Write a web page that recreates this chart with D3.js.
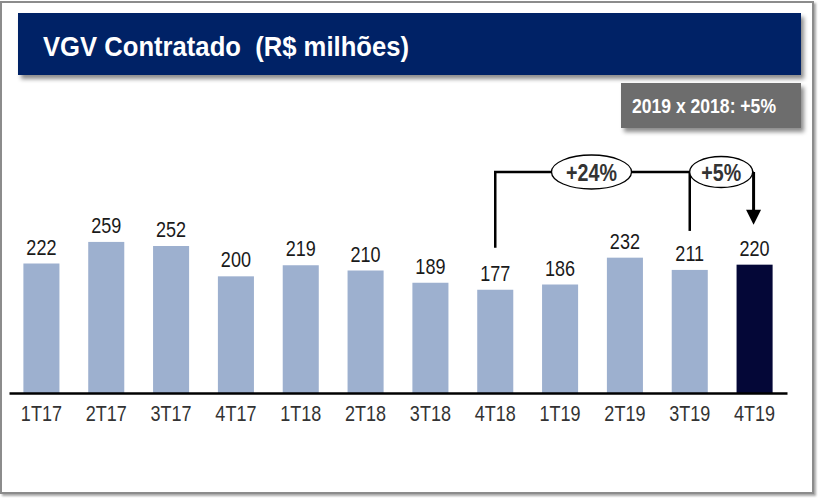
<!DOCTYPE html>
<html><head><meta charset="utf-8">
<script src="https://cdn.jsdelivr.net/npm/d3@7"></script>
<style>
html,body{margin:0;padding:0;background:#fff;}
svg{display:block;}
text{font-family:"Liberation Sans Narrow","Arial Narrow","Liberation Sans",Arial,sans-serif;white-space:pre;}
</style></head>
<body>
<script>
const categories = ["1T17","2T17","3T17","4T17","1T18","2T18","3T18","4T18","1T19","2T19","3T19","4T19"];
const values = [222,259,252,200,219,210,189,177,186,232,211,220];
const highlight = ["4T19"];
const titleText = "VGV Contratado  (R$ milhões)";
const boxText = "2019 x 2018: +5%";
const growthLabels = [
  {from:"4T18", to:"3T19", text:"+24%"},
  {from:"3T19", to:"4T19", text:"+5%"}
];

const W = 818, H = 498;
const SX = 0.82; // horizontal condensation (narrow face)
const svg = d3.select("body").append("svg").attr("width", W).attr("height", H);
const defs = svg.append("defs");
const sh = defs.append("filter").attr("id","shadow").attr("x","-5%").attr("y","-20%").attr("width","115%").attr("height","160%");
sh.append("feDropShadow").attr("dx",3).attr("dy",4).attr("stdDeviation",2.2).attr("flood-color","#000").attr("flood-opacity",0.45);
const sh2 = defs.append("filter").attr("id","frameShadow").attr("x","-2%").attr("y","-2%").attr("width","104%").attr("height","104%");
sh2.append("feDropShadow").attr("dx",2).attr("dy",2).attr("stdDeviation",1).attr("flood-color","#000").attr("flood-opacity",0.35);

// outer frame
svg.append("rect").attr("x",1).attr("y",2).attr("width",812).attr("height",491)
  .attr("fill","#fff").attr("stroke","#8c8c8c").attr("stroke-width",2).attr("filter","url(#frameShadow)");

// title bar
svg.append("rect").attr("x",18).attr("y",13).attr("width",783).attr("height",62)
  .attr("fill","#062466").attr("filter","url(#shadow)");
svg.append("text").attr("x",43).attr("y",56)
  .attr("fill","#fff").attr("font-weight","bold").attr("font-size",28)
  .attr("textLength",366).attr("lengthAdjust","spacingAndGlyphs")
  .text(titleText);

// gray box
svg.append("rect").attr("x",621).attr("y",83).attr("width",180).attr("height",45)
  .attr("fill","#6d6d6d").attr("filter","url(#shadow)");
svg.append("text").attr("x",632).attr("y",113)
  .attr("fill","#fff").attr("font-weight","bold").attr("font-size",21)
  .attr("textLength",144).attr("lengthAdjust","spacingAndGlyphs")
  .text(boxText);

// scales
const x = d3.scaleBand().domain(categories).range([9, 787]).paddingInner(0.444).paddingOuter(0.222);
const y = d3.scaleLinear().domain([0, 300]).range([393, 218]);
const data = categories.map((c,i)=>({c, v: values[i]}));

svg.append("g").selectAll("rect").data(data).join("rect")
  .attr("x", d=>x(d.c)).attr("width", x.bandwidth())
  .attr("y", d=>y(d.v)).attr("height", d=>y(0)-y(d.v))
  .attr("fill", d=>highlight.includes(d.c) ? "#040737" : "#9db0cf");

svg.append("g").selectAll("text").data(data).join("text")
  .attr("transform", d=>`translate(${x(d.c)+x.bandwidth()/2},${y(d.v)-9}) scale(${SX},1)`)
  .attr("text-anchor","middle").attr("font-size",22).attr("fill","#1a1a1a")
  .text(d=>d.v);

// axis
const ax = svg.append("g").attr("transform","translate(0,393)")
  .call(d3.axisBottom(x).tickSize(0).tickPadding(12));
ax.attr("font-family",null).attr("font-size",null);
ax.select(".domain").attr("stroke","#000").attr("stroke-width",2.5);
ax.selectAll(".tick text").attr("font-size",22).attr("fill","#333")
  .attr("y",null).attr("dy",null)
  .attr("transform",`translate(0,28) scale(${SX},1)`);

// growth annotations
const cx = c => x(c)+x.bandwidth()/2;
const val = c => values[categories.indexOf(c)];
const lineY = 172;
const g = svg.append("g");
const a = growthLabels[0], b = growthLabels[1];
g.append("path")
  .attr("d", `M${cx(a.from)},${y(val(a.from))-42} V${lineY} H${cx(b.to)-1}`)
  .attr("fill","none").attr("stroke","#000").attr("stroke-width",2.5);
g.append("line").attr("x1",cx(a.to)).attr("x2",cx(a.to))
  .attr("y1",lineY).attr("y2",y(val(a.to))-39)
  .attr("stroke","#000").attr("stroke-width",2.5);
const ax4 = cx(b.to)-1, tip = y(val(b.to))-40;
g.append("line").attr("x1",ax4).attr("x2",ax4).attr("y1",lineY).attr("y2",tip-12)
  .attr("stroke","#000").attr("stroke-width",3);
g.append("path").attr("d",`M${ax4-7.5},${tip-15} L${ax4+7.5},${tip-15} L${ax4},${tip} Z`).attr("fill","#000");

const ells = [
  {cx:(cx(a.from)+cx(a.to))/2 - 1, rx:40, ry:17, t:a.text},
  {cx:(cx(b.from)+cx(b.to))/2 - 1, rx:31.5, ry:15.5, t:b.text}
];
ells.forEach(e=>{
  g.append("ellipse").attr("cx",e.cx).attr("cy",lineY).attr("rx",e.rx).attr("ry",e.ry)
    .attr("fill","#fff").attr("stroke","#000").attr("stroke-width",1.3);
  g.append("text").attr("transform",`translate(${e.cx},${lineY+9}) scale(${SX},1)`)
    .attr("text-anchor","middle").attr("font-weight","bold").attr("font-size",24).attr("fill","#333")
    .text(e.t);
});
</script>
</body></html>
